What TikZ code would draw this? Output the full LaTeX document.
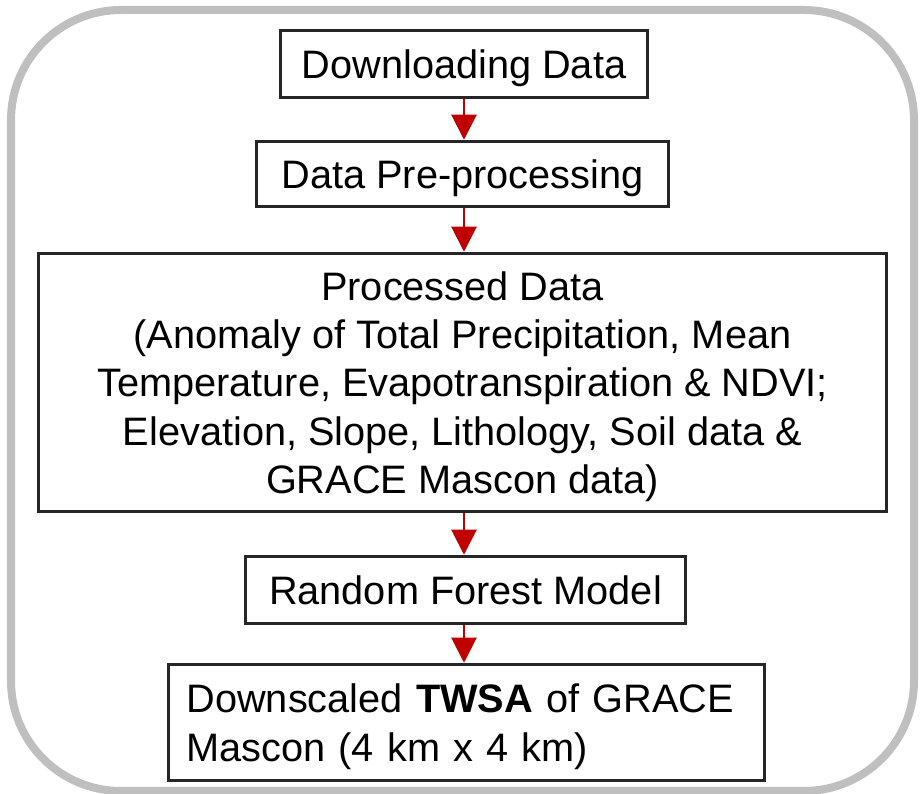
\documentclass[tikz,border=0pt]{standalone}
\usepackage{fontspec}
\setmainfont{Liberation Sans}
\usetikzlibrary{arrows.meta}
\definecolor{arrowred}{HTML}{C00000}
\definecolor{framegray}{HTML}{BFBFBF}

\begin{document}
\begin{tikzpicture}[
    stepbox/.style={draw=black!85, line width=1pt, rectangle, align=center, inner sep=0pt,
        text depth=0pt, font=\fontsize{11.3}{13.75}\selectfont},
    flow/.style={-{Triangle[width=0.25cm,length=0.25cm]}, arrowred, line width=0.6pt}
]
            \useasboundingbox (0,0) rectangle (9.2,-7.94);
            % outer frame
            \draw[framegray, line width=0.08cm, rounded corners=1.1cm] (0.11,-0.10) rectangle (9.14,-7.91);
            % process flow
            \node[stepbox, minimum width=3.67cm, minimum height=0.67cm] (download) at (4.64,-0.64) {Downloading Data};
            \node[stepbox, minimum width=4.12cm, minimum height=0.65cm] (prep) at (4.625,-1.74) {Data Pre-processing};
            \node[stepbox, minimum width=8.48cm, minimum height=2.58cm] (processed) at (4.625,-3.825) {Processed Data\\(Anomaly of Total Precipitation, Mean\\Temperature, Evapotranspiration \& NDVI;\\Elevation, Slope, Lithology, Soil data \&\\GRACE Mascon data)};
            \node[stepbox, minimum width=4.40cm, minimum height=0.67cm] (model) at (4.655,-5.90) {Random Forest Model};
            \node[stepbox, align=left, text width=5.6cm, text depth=13.75pt, minimum width=5.96cm, minimum height=1.16cm] (twsa) at (4.665,-7.225) {Downscaled \textbf{TWSA} of GRACE\\Mascon (4 km x 4 km)};
            \coordinate (axis) at (4.64,0);
            
            \draw[flow] (download.south -| axis) -- (prep.north -| axis);
            \draw[flow] (prep.south -| axis) -- (processed.north -| axis);
            \draw[flow] (processed.south -| axis) -- (model.north -| axis);
            \draw[flow] (model.south -| axis) -- (twsa.north -| axis);
        \end{tikzpicture}
\end{document}
